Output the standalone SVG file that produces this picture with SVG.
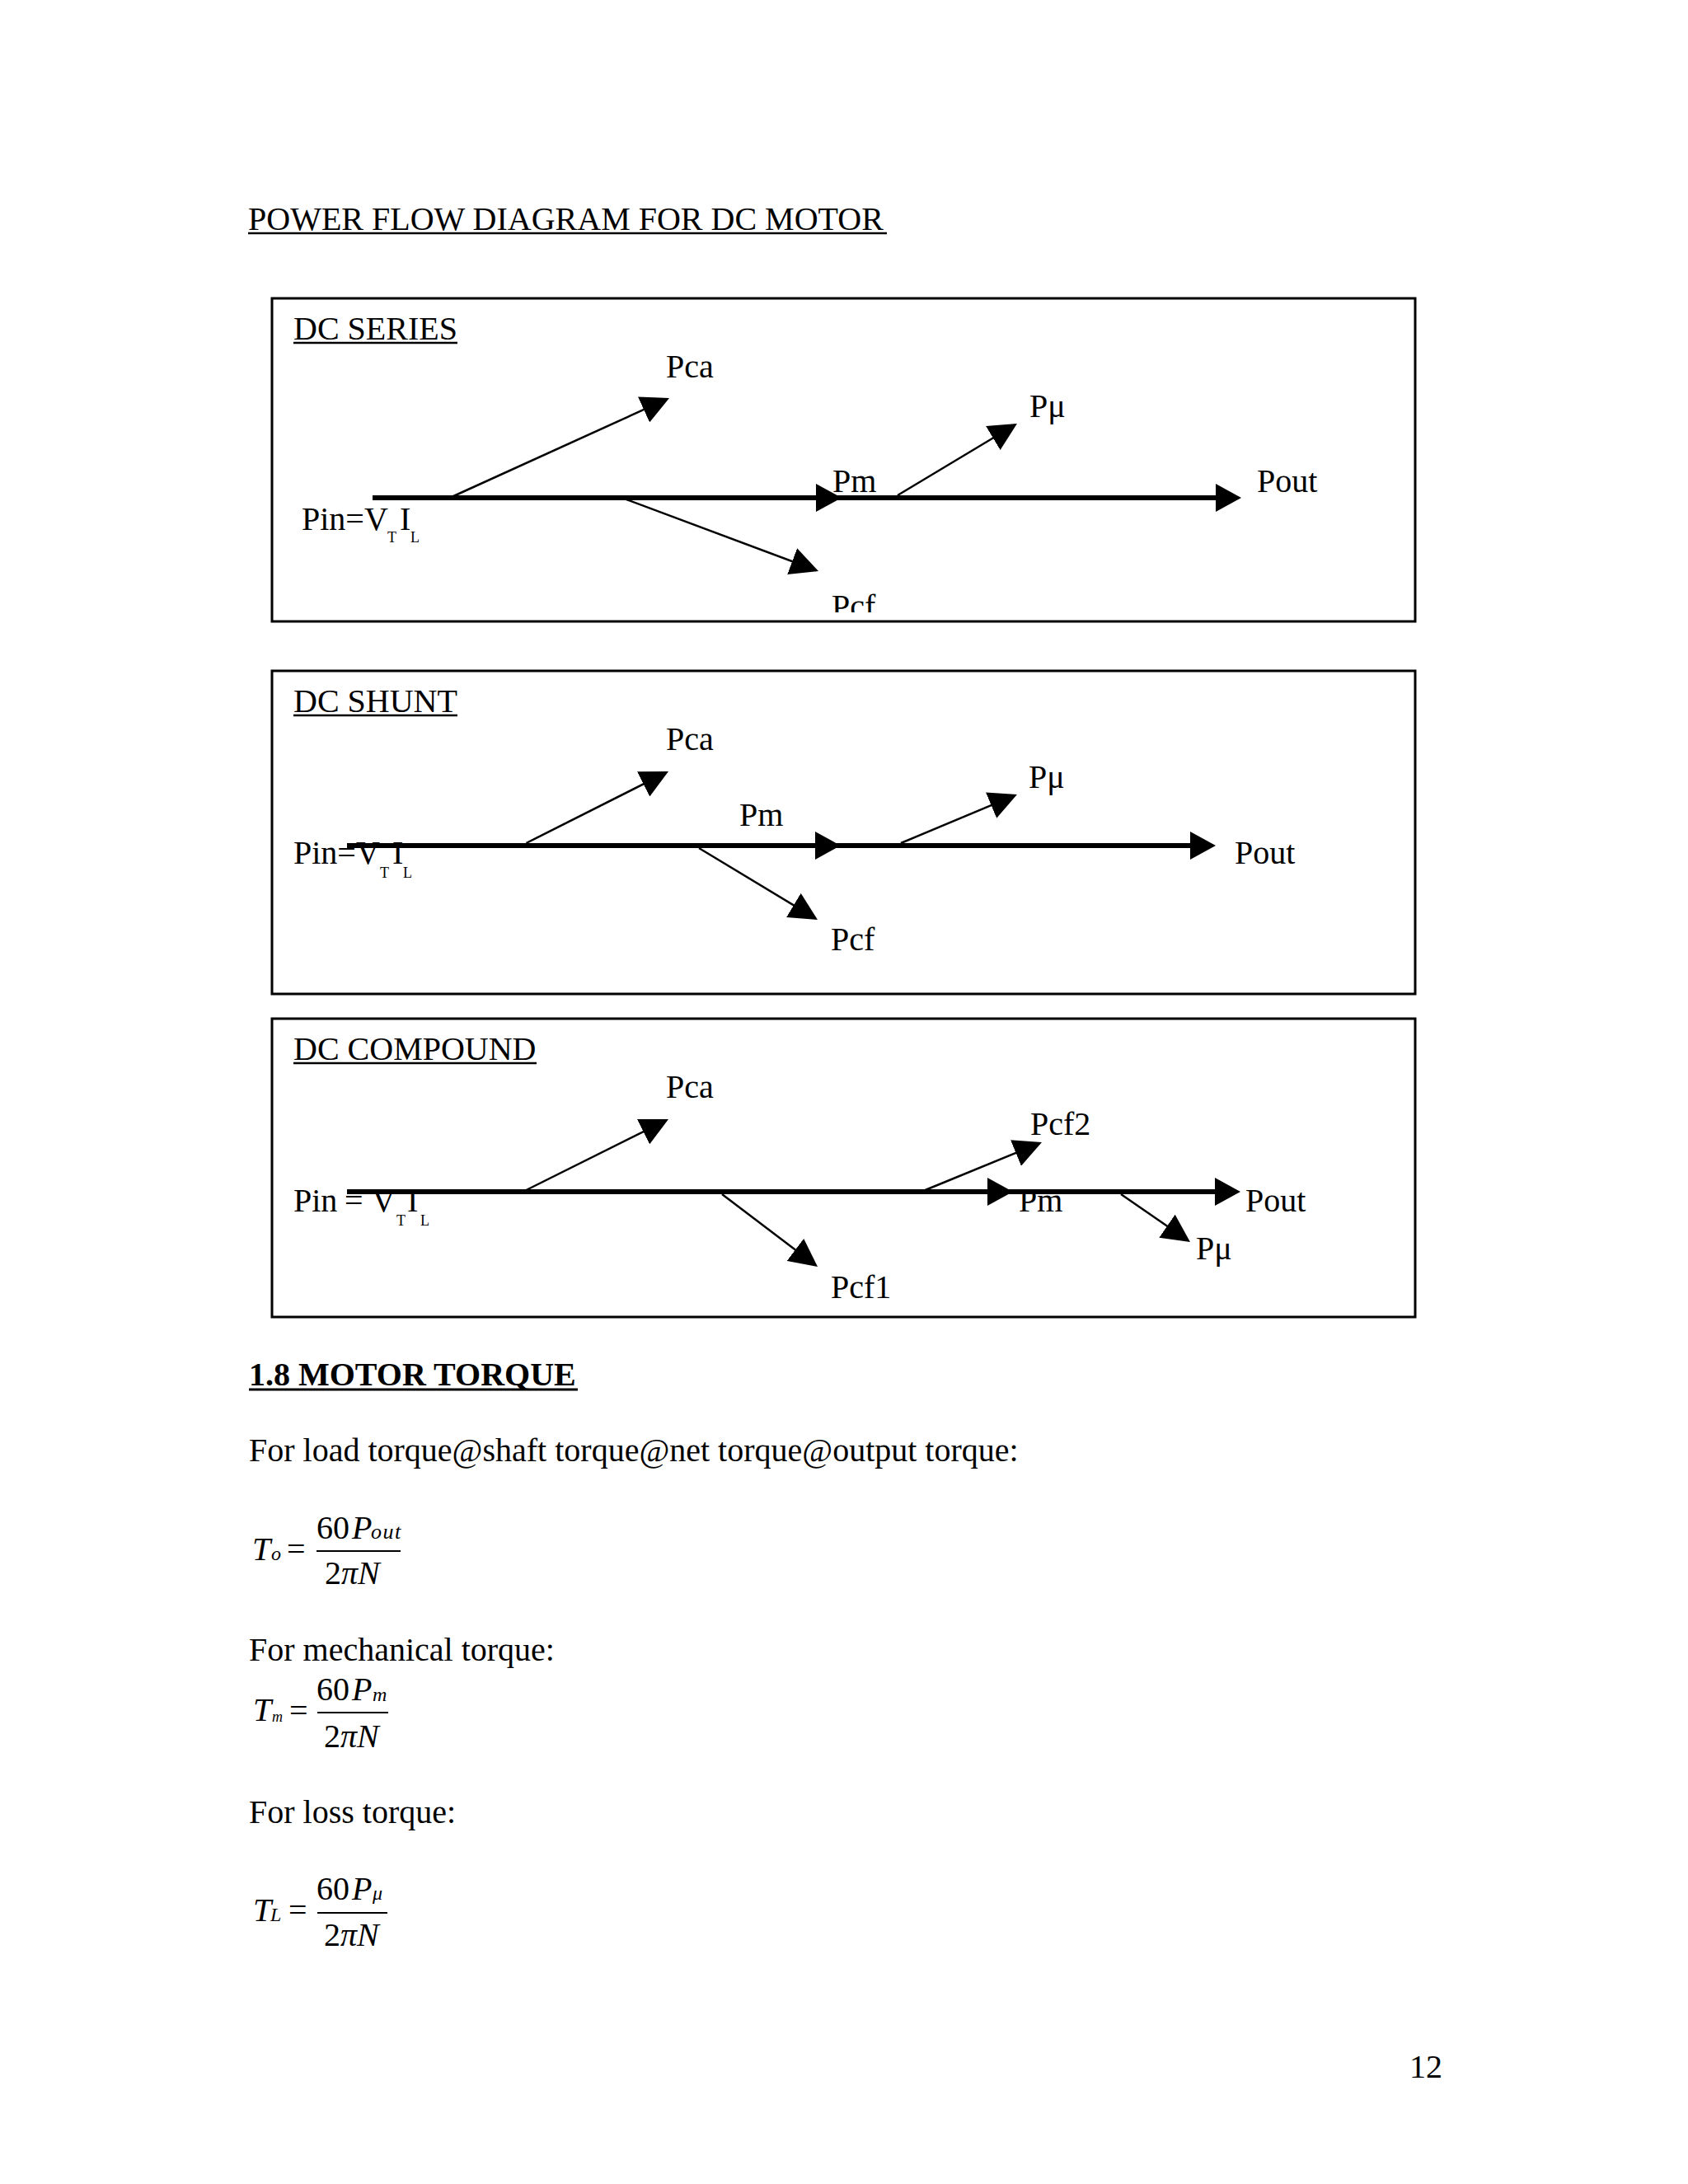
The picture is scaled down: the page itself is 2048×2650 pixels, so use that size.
<svg xmlns="http://www.w3.org/2000/svg" width="2048" height="2650" viewBox="0 0 2048 2650">
<style>
.t{font-family:"Liberation Serif","Times New Roman",serif;font-size:40px;fill:#000}
.b{font-weight:bold}
.s{font-size:18px}
.ss{font-size:24px}
.i{font-style:italic}
.box{fill:none;stroke:#000;stroke-width:3}
.thin{fill:none;stroke:#000;stroke-width:2.5;marker-end:url(#ah)}
.thick{fill:none;stroke:#000;stroke-width:6;marker-end:url(#ahT)}
.ul{stroke:#000;stroke-width:2.5}
.bar{stroke:#000;stroke-width:2}
</style>
<defs>
<marker id="ah" markerUnits="userSpaceOnUse" markerWidth="34" markerHeight="34" viewBox="0 0 34 34" refX="31" refY="17" orient="auto"><path d="M0,0 L34,17 L0,34 z" fill="#000"/></marker>
<marker id="ahT" markerUnits="userSpaceOnUse" markerWidth="31" markerHeight="34" viewBox="0 0 31 34" refX="24" refY="17" orient="auto"><path d="M0,0 L31,17 L0,34 z" fill="#000"/></marker>
<clipPath id="clipSeries"><rect x="330" y="362" width="1387" height="381"/></clipPath>
</defs>
<rect width="2048" height="2650" fill="#fff"/>

<g id="title">
<text class="t" x="301" y="279">POWER FLOW DIAGRAM FOR DC MOTOR</text>
<line class="ul" x1="301" y1="283" x2="1076" y2="283"/>
</g>

<!-- DC SERIES -->
<g id="series">
<rect id="series-box" class="box" x="330" y="362" width="1387" height="392"/>
<g id="series-heading"><text class="t" x="356" y="412">DC SERIES</text><line class="ul" x1="356" y1="416" x2="555" y2="416"/></g>
<g id="series-pin"><text class="t" x="366" y="643">Pin=V</text><text class="t s" x="470" y="658">T</text><text class="t" x="485" y="643">I</text><text class="t s" x="498" y="658">L</text></g>
<g id="series-pca"><text class="t" x="808" y="458">Pca</text></g>
<g id="series-pmu"><text class="t" x="1249" y="506">Pμ</text></g>
<g id="series-pm"><text class="t" x="1010" y="597">Pm</text></g>
<g id="series-pout"><text class="t" x="1525" y="597">Pout</text></g>
<g id="series-pcf" clip-path="url(#clipSeries)"><text class="t" x="1009" y="749">Pcf</text></g>
</g>

<!-- DC SHUNT -->
<g id="shunt">
<rect id="shunt-box" class="box" x="330" y="814" width="1387" height="392"/>
<g id="shunt-heading"><text class="t" x="356" y="864">DC SHUNT</text><line class="ul" x1="356" y1="868" x2="555" y2="868"/></g>
<g id="shunt-pin"><text class="t" x="356" y="1048">Pin=V</text><text class="t s" x="461" y="1065">T</text><text class="t" x="476" y="1048">I</text><text class="t s" x="489" y="1065">L</text></g>
<g id="shunt-pca"><text class="t" x="808" y="910">Pca</text></g>
<g id="shunt-pmu"><text class="t" x="1248" y="956">Pμ</text></g>
<g id="shunt-pm"><text class="t" x="897" y="1002">Pm</text></g>
<g id="shunt-pout"><text class="t" x="1498" y="1048">Pout</text></g>
<g id="shunt-pcf"><text class="t" x="1008" y="1153">Pcf</text></g>
</g>

<!-- DC COMPOUND -->
<g id="compound">
<rect id="compound-box" class="box" x="330" y="1236" width="1387" height="362"/>
<g id="compound-heading"><text class="t" x="356" y="1286">DC COMPOUND</text><line class="ul" x1="356" y1="1290" x2="651" y2="1290"/></g>
<g id="compound-pin"><text class="t" x="356" y="1470">Pin</text><text class="t" x="418" y="1470">=</text><text class="t" x="451" y="1470">V</text><text class="t s" x="481" y="1487">T</text><text class="t" x="494" y="1470">I</text><text class="t s" x="510" y="1487">L</text></g>
<g id="compound-pca"><text class="t" x="808" y="1332">Pca</text></g>
<g id="compound-pcf2"><text class="t" x="1250" y="1377">Pcf2</text></g>
<g id="compound-pm"><text class="t" x="1236" y="1470">Pm</text></g>
<g id="compound-pout"><text class="t" x="1511" y="1470">Pout</text></g>
<g id="compound-pmu"><text class="t" x="1451" y="1528">Pμ</text></g>
<g id="compound-pcf1"><text class="t" x="1008" y="1575">Pcf1</text></g>
</g>

<g id="connectors">
<!-- series -->
<path class="thick" d="M452,604 H1014"/>
<path class="thick" d="M1010,604 H1499"/>
<path class="thin" d="M548,603 L809.3,484.2"/>
<path class="thin" d="M760,606 L990.2,692"/>
<path class="thin" d="M1089,601 L1231.4,515.5"/>
<!-- shunt -->
<path class="thick" d="M421,1026 H1013"/>
<path class="thick" d="M1009,1026 H1468"/>
<path class="thin" d="M638.5,1023 L808.3,937.4"/>
<path class="thin" d="M848,1029 L989.4,1114.4"/>
<path class="thin" d="M1093,1023 L1231.2,965.2"/>
<!-- compound -->
<path class="thick" d="M421,1446 H1222"/>
<path class="thick" d="M1218,1446 H1498"/>
<path class="thin" d="M638.5,1444 L808.3,1359.4"/>
<path class="thin" d="M876,1449 L989.6,1535.2"/>
<path class="thin" d="M1122.6,1444 L1261.2,1387.2"/>
<path class="thin" d="M1360,1449 L1441.5,1505.3"/>
</g>

<g id="torque-heading">
<text class="t b" x="302" y="1681">1.8 MOTOR TORQUE</text>
<line class="ul" x1="302" y1="1686" x2="701" y2="1686" style="stroke-width:3"/>
</g>
<g id="load-text"><text class="t" x="302" y="1773">For load torque@shaft torque@net torque@output torque:</text></g>

<g id="formula-output">
<text class="t i" x="306" y="1893">T</text><text class="t i ss" x="329" y="1893">o</text>
<text class="t" x="348" y="1893">=</text>
<text class="t" x="384" y="1867">60</text><text class="t i" x="427" y="1867">P</text><text class="t i" x="450" y="1867" style="font-size:26px;letter-spacing:1.5px">out</text>
<line class="bar" x1="384" y1="1882" x2="486" y2="1882"/>
<text class="t" x="394" y="1922">2<tspan class="i">πN</tspan></text>
</g>

<g id="mech-text"><text class="t" x="302" y="2015">For mechanical torque:</text></g>
<g id="formula-mech">
<text class="t i" x="307" y="2088">T</text><text class="t i s" x="330" y="2089">m</text>
<text class="t" x="351" y="2089">=</text>
<text class="t" x="384" y="2063">60</text><text class="t i" x="427" y="2063">P</text><text class="t i ss" x="452" y="2064">m</text>
<line class="bar" x1="385" y1="2078" x2="471" y2="2078"/>
<text class="t" x="393" y="2120">2<tspan class="i">πN</tspan></text>
</g>

<g id="loss-text"><text class="t" x="302" y="2212">For loss torque:</text></g>
<g id="formula-loss">
<text class="t i" x="307" y="2331">T</text><text class="t i ss" x="328" y="2331">L</text>
<text class="t" x="350" y="2331">=</text>
<text class="t" x="384" y="2305">60</text><text class="t i" x="427" y="2305">P</text><text class="t i ss" x="452" y="2305">μ</text>
<line class="bar" x1="385" y1="2321" x2="470" y2="2321"/>
<text class="t" x="393" y="2361">2<tspan class="i">πN</tspan></text>
</g>

<g id="page-number"><text class="t" x="1710" y="2521">12</text></g>
</svg>
